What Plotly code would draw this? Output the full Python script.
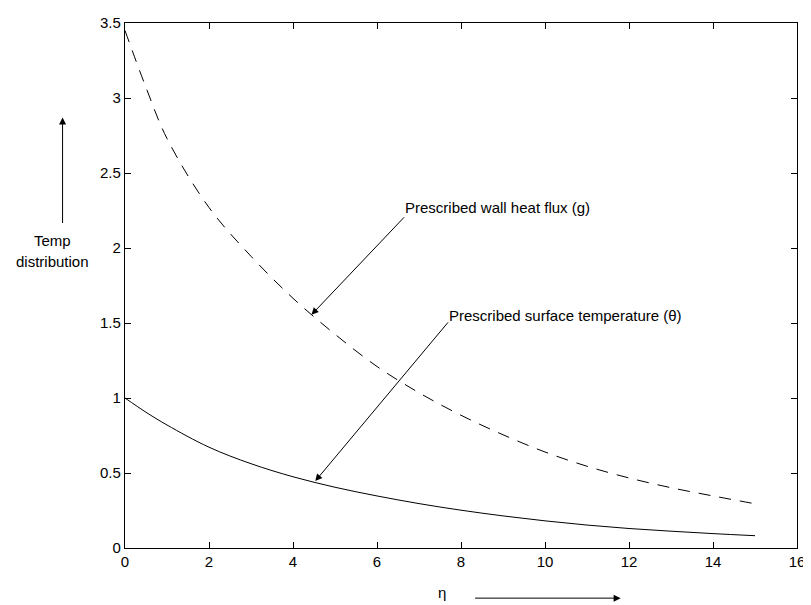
import plotly.graph_objects as go

eta = [0, 0.5, 1, 2, 3, 4, 5, 6, 7, 8, 9, 10, 11, 12, 13, 14, 15]
theta_surface = [1.0, 0.905, 0.82, 0.672, 0.562, 0.475, 0.405, 0.347, 0.296, 0.252,
                 0.214, 0.181, 0.153, 0.13, 0.112, 0.096, 0.082]
g_heatflux = [3.45, 3.07, 2.73, 2.27, 1.945, 1.665, 1.425, 1.21, 1.035, 0.885,
              0.755, 0.64, 0.545, 0.467, 0.402, 0.347, 0.295]

x_ticks = [0, 2, 4, 6, 8, 10, 12, 14, 16]
y_ticks = [0, 0.5, 1, 1.5, 2, 2.5, 3, 3.5]
y_ticklabels = ["0", "0.5", "1", "1.5", "2", "2.5", "3", "3.5"]

FONT = "Arial, Liberation Sans, Helvetica, sans-serif"

fig = go.Figure()
fig.add_trace(go.Scatter(x=eta, y=g_heatflux, mode="lines", line_shape="spline",
                         line=dict(color="black", width=1, dash="12px,9px"),
                         showlegend=False, hoverinfo="skip"))
fig.add_trace(go.Scatter(x=eta, y=theta_surface, mode="lines", line_shape="spline",
                         line=dict(color="black", width=1),
                         showlegend=False, hoverinfo="skip"))

axis_common = dict(showgrid=False, zeroline=False, showline=True, linecolor="black",
                   linewidth=1.2, mirror="ticks", ticks="inside", ticklen=6,
                   tickcolor="black", ticklabeloverflow="allow",
                   tickfont=dict(family=FONT, size=15, color="black"))

fig.update_xaxes(range=[0, 16], tickvals=x_ticks, ticktext=[str(v) for v in x_ticks],
                 **axis_common)
fig.update_yaxes(range=[0, 3.5], tickvals=y_ticks, ticktext=y_ticklabels,
                 **axis_common)

annotations = [
    # arrows in data coords
    dict(x=4.44, y=1.555, ax=6.68, ay=2.215, xref="x", yref="y", axref="x", ayref="y",
         text="", showarrow=True, arrowhead=2, arrowsize=1.4, arrowwidth=1, arrowcolor="black"),
    dict(x=4.53, y=0.446, ax=7.72, ay=1.514, xref="x", yref="y", axref="x", ayref="y",
         text="", showarrow=True, arrowhead=2, arrowsize=1.4, arrowwidth=1, arrowcolor="black"),
    dict(x=6.62, y=2.268, xref="x", yref="y", text="Prescribed wall heat flux (g)",
         showarrow=False, xanchor="left", yanchor="middle",
         font=dict(family=FONT, size=15, color="black")),
    dict(x=7.66, y=1.547, xref="x", yref="y", text="Prescribed surface temperature (θ)",
         showarrow=False, xanchor="left", yanchor="middle",
         font=dict(family=FONT, size=15, color="black")),
    # y label
    dict(x=-0.1077, y=0.586, xref="paper", yref="paper", text="Temp", showarrow=False,
         xanchor="center", yanchor="middle", font=dict(family=FONT, size=15, color="black")),
    dict(x=-0.1077, y=0.545, xref="paper", yref="paper", text="distribution", showarrow=False,
         xanchor="center", yanchor="middle", font=dict(family=FONT, size=15, color="black")),
    dict(x=-0.0929, y=0.820, xref="paper", yref="paper", ax=0, ay=107, text="",
         showarrow=True, arrowhead=2, arrowsize=1.4, arrowwidth=1, arrowcolor="black"),
    # x label
    dict(x=0.4712, y=-0.1049, xref="paper", yref="paper", text="η", showarrow=False,
         xanchor="center", yanchor="bottom", font=dict(family=FONT, size=15, color="black")),
    dict(x=0.7375, y=-0.0955, xref="paper", yref="paper", ax=-147, ay=0, text="",
         showarrow=True, arrowhead=2, arrowsize=1.4, arrowwidth=1, arrowcolor="black"),
]

# page body adds an 8px offset; size figure so it ends at the window edge
fig.update_layout(width=803, height=597, margin=dict(l=117, r=8, t=6, b=57),
                  paper_bgcolor="white", plot_bgcolor="white",
                  annotations=annotations, showlegend=False)

fig.write_html("out.html")
